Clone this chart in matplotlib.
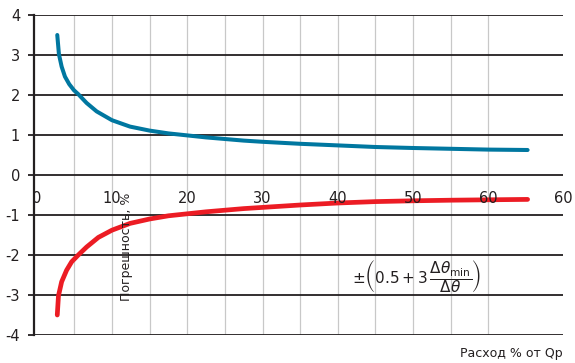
import numpy as np
import matplotlib
matplotlib.use('Agg')
import matplotlib.pyplot as plt

plt.rcParams['font.family'] = ['DejaVu Sans']

# Flow, % of Qp, and error, %
flow_up = [2.74, 2.96, 3.32, 3.76, 4.33, 4.95, 5.53, 6.64, 7.97, 10.0, 12.4, 15.0, 17.5, 20.0, 22.5,
           25.0, 27.5, 30.0, 35.0, 40.0, 45.0, 50.0, 55.0, 60.0, 65.2]
err_up = [3.5, 3.02, 2.71, 2.46, 2.27, 2.12, 2.02, 1.8, 1.59, 1.37, 1.21, 1.11, 1.04, 0.99, 0.94,
          0.90, 0.86, 0.83, 0.78, 0.74, 0.70, 0.675, 0.655, 0.635, 0.625]

flow_low = [2.74, 2.9, 3.32, 3.98, 4.65, 5.53, 6.64, 8.2, 10.0, 12.4, 15.0, 17.5, 20.0, 22.5,
            25.0, 27.5, 30.0, 35.0, 40.0, 45.0, 50.0, 55.0, 60.0, 65.2]
err_low = [-3.5, -3.02, -2.67, -2.38, -2.17, -2.0, -1.8, -1.56, -1.38, -1.21, -1.10, -1.02, -0.97, -0.92,
           -0.88, -0.84, -0.81, -0.75, -0.70, -0.665, -0.645, -0.63, -0.62, -0.61]

x_ticks = [0, 10, 20, 30, 40, 50, 60, 70]
x_labels = ['0', '10', '20', '30', '40', '50', '60', '60']
y_ticks = [-4, -3, -2, -1, 0, 1, 2, 3, 4]
x_grid = [5, 10, 15, 20, 25, 30, 35, 40, 45, 50, 55, 60]

fig = plt.figure(figsize=(5.75, 3.63), dpi=100)
ax = fig.add_axes([34/575, 28/363, 529/575, 320/363])

ax.set_xlim(-0.35, 69.9)
ax.set_ylim(-4, 4)

for xg in x_grid:
    ax.axvline(xg, color='#c8c8c8', lw=0.9, zorder=1)
for yg in y_ticks:
    ax.axhline(yg, color='#231f20', lw=1.3, zorder=2)

ax.plot(flow_up, err_up, color='#0077a0', lw=2.9, solid_capstyle='round',
        solid_joinstyle='round', zorder=3)
ax.plot(flow_low, err_low, color='#ec1c24', lw=3.4, solid_capstyle='round',
        solid_joinstyle='round', zorder=3)

for s in ['top', 'right', 'bottom']:
    ax.spines[s].set_visible(False)
ax.spines['left'].set_linewidth(1.6)
ax.spines['left'].set_color('#231f20')
ax.set_xticks([])
ax.set_yticks(y_ticks)
ax.set_yticklabels([str(v) for v in y_ticks])
ax.tick_params(axis='y', length=4, width=1.3, color='#231f20', labelsize=10.5,
               labelcolor='#231f20', pad=6)

for xt, lab in zip(x_ticks, x_labels):
    ax.text(xt, -0.58, lab, ha='center', va='center', fontsize=10.5, color='#231f20', zorder=4)

ax.text(11.9, -1.8, 'Погрешность, %', rotation=90, ha='center', va='center',
        fontsize=9, color='#231f20', zorder=4)

ax.text(50.5, -2.55, r'$\pm\left(0.5 + 3\,\dfrac{\Delta\theta_{\min}}{\Delta\theta}\right)$',
        ha='center', va='center', fontsize=11, color='#231f20', zorder=4)

fig.text(563/575, 1 - 353/363, 'Расход % от Qp', ha='right', va='center',
         fontsize=9, color='#231f20')

fig.savefig('out.png', dpi=100, facecolor='white')
